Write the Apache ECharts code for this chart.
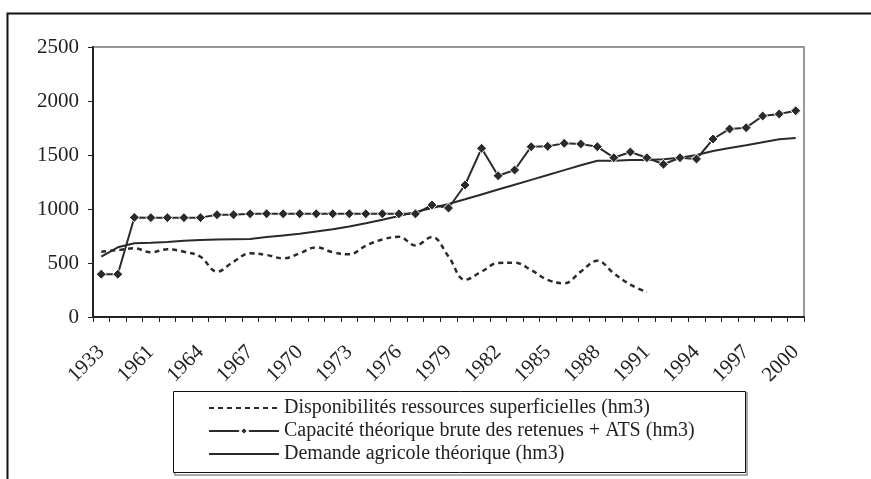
<!DOCTYPE html>
<html>
<head>
<meta charset="utf-8">
<script src="https://cdn.jsdelivr.net/npm/echarts@6/dist/echarts.min.js"></script>
<style>
  html, body { margin: 0; padding: 0; background: #fff; }
  #chart { width: 871px; height: 479px; }
</style>
</head>
<body>
<div id="chart"></div>
<script>
// years on the category axis (one label every 3rd category)
const years = ['1933', '1959', '1960', '1961', '1962', '1963', '1964', '1965', '1966', '1967',
  '1968', '1969', '1970', '1971', '1972', '1973', '1974', '1975', '1976', '1977',
  '1978', '1979', '1980', '1981', '1982', '1983', '1984', '1985', '1986', '1987',
  '1988', '1989', '1990', '1991', '1992', '1993', '1994', '1995', '1996', '1997',
  '1998', '1999', '2000'];

// Disponibilités ressources superficielles (hm3)
const disponibilites = [605, 620, 636, 599, 627, 605, 558, 420, 512, 590,
  574, 543, 590, 645, 600, 580, 660, 718, 743, 663,
  740, 560, 345, 420, 500, 503, 435, 343, 312, 420,
  521, 404, 300, 230, null, null, null, null, null, null,
  null, null, null];

// Capacité théorique brute des retenues + ATS (hm3)
const capacite = [396, 396, 922, 920, 920, 920, 920, 947, 947, 956,
  956, 956, 956, 956, 956, 956, 956, 956, 955, 955,
  1037, 1009, 1222, 1562, 1308, 1361, 1577, 1580, 1608, 1602,
  1577, 1475, 1528, 1475, 1414, 1475, 1463, 1648, 1741, 1753,
  1861, 1880, 1910];

// Demande agricole théorique (hm3)
const demande = [558, 645, 682, 688, 695, 705, 713, 718, 720, 722,
  740, 755, 770, 792, 813, 838, 868, 900, 935, 972,
  1010, 1046, 1090, 1135, 1180, 1225, 1270, 1315, 1360, 1405,
  1447, 1447, 1453, 1453, 1460, 1475, 1500, 1537, 1565, 1590,
  1618, 1645, 1657];

const yTicks = { min: 0, max: 2500, step: 500 };

const names = [
  'Disponibilités ressources superficielles (hm3)',
  'Capacité théorique brute des retenues + ATS (hm3)',
  'Demande agricole théorique (hm3)'
];

const chart = echarts.init(document.getElementById('chart'));
const ink = '#2a2a2a';
const serif = 'Liberation Serif';

chart.setOption({
  animation: false,
  grid: {
    left: 93, right: 67, top: 47, bottom: 162,
    show: true, borderColor: '#999', borderWidth: 2
  },
  xAxis: {
    type: 'category',
    data: years,
    boundaryGap: true,
    axisLine: { lineStyle: { color: '#222', width: 2 } },
    axisTick: { show: true, interval: 0, length: 5, lineStyle: { color: '#222', width: 1 } },
    axisLabel: {
      interval: 2, rotate: 45, margin: 32,
      color: '#222', fontFamily: serif, fontSize: 21
    },
    splitLine: { show: false }
  },
  yAxis: {
    type: 'value',
    min: yTicks.min, max: yTicks.max, interval: yTicks.step,
    axisLine: { show: true, lineStyle: { color: '#222', width: 2 } },
    axisTick: { show: true, length: 5, lineStyle: { color: '#222', width: 1 } },
    axisLabel: {
      margin: 14, color: '#222', fontFamily: serif, fontSize: 21,
      formatter: function (v) { return String(v); }
    },
    splitLine: { show: false }
  },
  legend: {
    orient: 'vertical',
    left: 203, top: 393,
    itemWidth: 70, itemHeight: 10, itemGap: 3,
    data: [
      { name: names[0], itemStyle: { opacity: 0 } },
      { name: names[1] },
      { name: names[2], itemStyle: { opacity: 0 } }
    ],
    textStyle: { fontFamily: serif, fontSize: 20, color: '#222' }
  },
  graphic: [
    { type: 'rect', shape: { x: 7.5, y: 13.5, width: 900, height: 520 },
      style: { fill: 'none', stroke: '#111', lineWidth: 2 }, silent: true },
    { type: 'rect', shape: { x: 175, y: 393, width: 572, height: 82 },
      style: { fill: 'none', stroke: '#aaa', lineWidth: 2 }, silent: true, z: -1 },
    { type: 'rect', shape: { x: 173.5, y: 391.5, width: 572, height: 81 },
      style: { fill: '#fff', stroke: '#111', lineWidth: 1 }, silent: true }
  ],
  series: [
    {
      name: names[0],
      type: 'line',
      data: disponibilites,
      smooth: 0.4,
      symbol: 'none',
      connectNulls: false,
      lineStyle: { color: ink, width: 2.5, type: [5, 4] },
      itemStyle: { color: ink }
    },
    {
      name: names[1],
      type: 'line',
      data: capacite,
      symbol: 'diamond',
      symbolSize: 10,
      lineStyle: { color: ink, width: 2 },
      itemStyle: { color: ink, borderColor: '#fff', borderWidth: 1 }
    },
    {
      name: names[2],
      type: 'line',
      data: demande,
      symbol: 'none',
      lineStyle: { color: ink, width: 2 },
      itemStyle: { color: ink }
    }
  ]
});
</script>
</body>
</html>
